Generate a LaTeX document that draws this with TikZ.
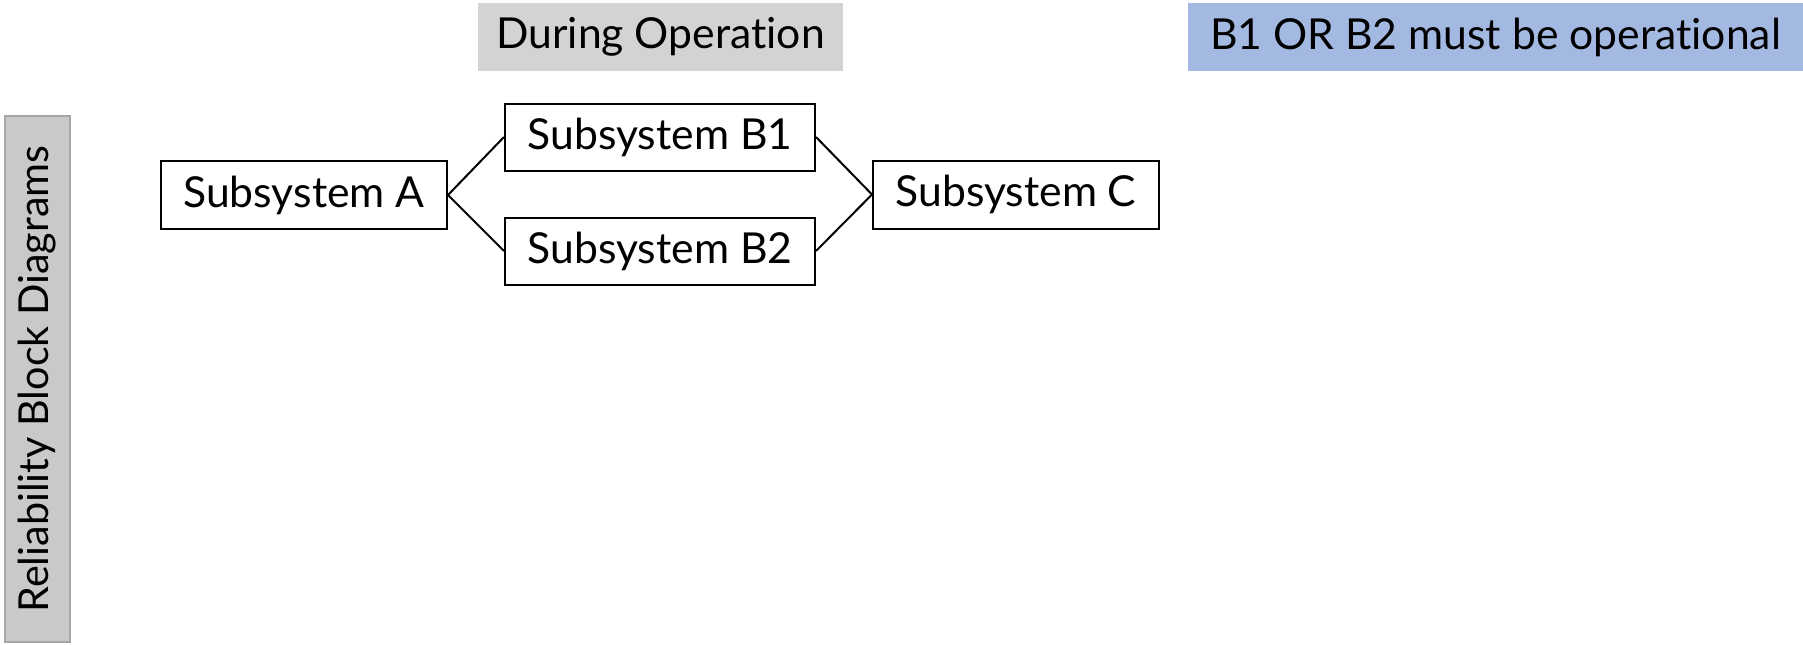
\documentclass[tikz,border=0pt]{standalone}
\usepackage{fontspec}
\setmainfont[Ligatures={NoCommon}]{Lato}
\definecolor{tagGrey}{HTML}{D3D3D3}
\definecolor{sideGrey}{HTML}{C9C9C9}
\definecolor{sideEdge}{HTML}{A6A6A6}
\definecolor{noteBlue}{HTML}{A3B9E1}
\begin{document}
\begin{tikzpicture}[x=0.75pt,y=-0.75pt,
  block/.style={draw=black,line width=1.5pt,fill=white,inner sep=0pt,
    minimum width=286*0.75pt,minimum height=68*0.75pt,font=\fontsize{32}{38}\selectfont},
  sub/.style={block,minimum width=310*0.75pt,minimum height=67*0.75pt},
  tag/.style={inner sep=0pt,font=\fontsize{32}{38}\selectfont},
  link/.style={line width=1.5pt}]
\useasboundingbox (0,0) rectangle (1803,644);
% heading tags
\node[tag,fill=tagGrey,minimum width=365*0.75pt,minimum height=68*0.75pt] (during) at (660.5,37) {During Operation};
\node[tag,fill=noteBlue,minimum width=615*0.75pt,minimum height=68*0.75pt] (note) at (1495.5,37) {B1 OR B2 must be operational};
% side label
\node[tag,fill=sideGrey,draw=sideEdge,line width=0.8pt,rotate=90,minimum width=526*0.75pt,minimum height=65*0.75pt,font=\fontsize{31}{37}\selectfont] (side) at (37.5,379) {Reliability Block Diagrams};
% blocks
\node[block] (A) at (304,195) {Subsystem A};
\node[sub] (B1) at (660,137) {Subsystem B1};
\node[sub] (B2) at (660,251) {Subsystem B2};
\node[block] (C) at (1016,194.5) {Subsystem C};
% parallel connections
\draw[link] (A.east) -- (B1.west);
\draw[link] (A.east) -- (B2.west);
\draw[link] (B1.east) -- (C.west);
\draw[link] (B2.east) -- (C.west);
\end{tikzpicture}
\end{document}
